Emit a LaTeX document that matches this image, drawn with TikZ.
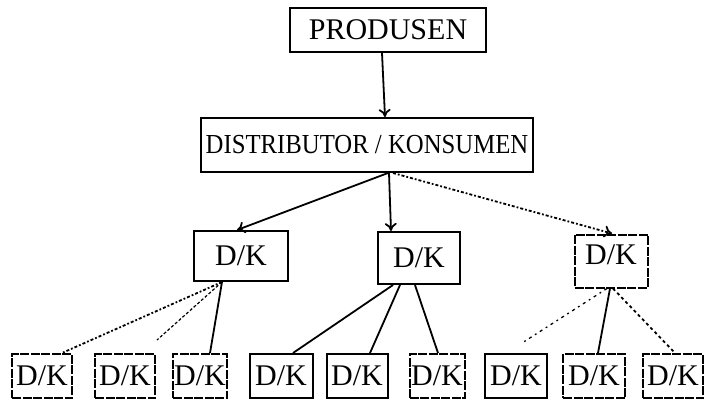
\documentclass[tikz,border=0pt]{standalone}
\usepackage{fontspec}
\setmainfont{Liberation Serif}
\newfontfamily\narrowserif[FakeStretch=0.9]{Liberation Serif}
\usetikzlibrary{arrows.meta}

\begin{document}
\begin{tikzpicture}[x=1pt,y=-1pt,
  box/.style={draw,line width=2pt,inner sep=0pt,font=\fontsize{30}{32}\selectfont},
  dkbox/.style={box,minimum height=44pt},
  dashbox/.style={dkbox,dash pattern=on 9pt off 1.5pt},
  link/.style={line width=1.8pt},
  arr/.style={link,-{To[length=8pt,width=12pt]}}]

\useasboundingbox (0,0) rectangle (704,400);

% Top of the chain
 \node[box,minimum width=196pt,minimum height=44pt] (prod) at (388,30) {PRODUSEN};
 \node[box,minimum width=332pt,minimum height=54pt,font=\narrowserif\fontsize{27.5}{29}\selectfont] (dist) at (367,145) {DISTRIBUTOR / KONSUMEN};
 \draw[arr] ([xshift=-6pt]prod.south) -- ([xshift=18pt]dist.north);

% Second level
 \node[box,minimum width=94pt,minimum height=50pt] (dkA) at (241,256) {D/K};
 \node[box,minimum width=82pt,minimum height=52pt] (dkB) at (419,258) {D/K};
 \node[box,dash pattern=on 9pt off 1.5pt,minimum width=73pt,minimum height=53pt,text height=21pt,text depth=14pt] (dkC) at (611,261) {D/K};
 \draw[arr] ([xshift=21pt]dist.south) -- ([xshift=-4pt]dkA.north);
 \draw[arr] ([xshift=22pt]dist.south) -- ([xshift=-28pt]dkB.north);
 \draw[arr,dash dot] ([xshift=26pt]dist.south) -- ([xshift=1pt]dkC.north);

% Bottom row
 \node[dashbox,minimum width=60pt] (b1) at (42,376) {D/K};
 \node[dashbox,minimum width=60pt] (b2) at (125,376) {D/K};
 \node[dashbox,minimum width=54pt] (b3) at (200,376) {D/K};
 \node[dkbox,minimum width=63pt] (b4) at (281,376) {D/K};
 \node[dkbox,minimum width=61pt] (b5) at (357,376) {D/K};
 \node[dashbox,minimum width=55pt] (b6) at (437,376) {D/K};
 \node[dkbox,minimum width=62pt] (b7) at (516,376) {D/K};
 \node[dashbox,minimum width=62pt] (b8) at (594,376) {D/K};
 \node[dashbox,minimum width=60pt] (b9) at (673,376) {D/K};

 \coordinate (endB2) at (157,340); % line stops short of the box
 \coordinate (endB7) at (522,343);

 \draw[link,dash dot] ([xshift=-19pt]dkA.south) -- ([xshift=20pt]b1.north);
 \draw[link,densely dashed,line width=1.2pt] ([xshift=-19pt]dkA.south) -- (endB2);
 \draw[link] ([xshift=-19pt]dkA.south) -- ([xshift=10pt]b3.north);

 \draw[link] ([xshift=-26pt]dkB.south) -- ([xshift=12pt]b4.north);
 \draw[link] ([xshift=-19pt]dkB.south) -- ([xshift=13pt]b5.north);
 \draw[link] ([xshift=-4pt]dkB.south) -- ([xshift=1pt]b6.north);

 \draw[link,loosely dash dot,line width=1.3pt] ([xshift=-4pt]dkC.south) -- (endB7);
 \draw[link] ([xshift=-1pt]dkC.south) -- ([xshift=4pt]b8.north);
 \draw[link,dashed] ([xshift=2pt]dkC.south) -- ([xshift=2pt]b9.north);

\end{tikzpicture}
\end{document}
